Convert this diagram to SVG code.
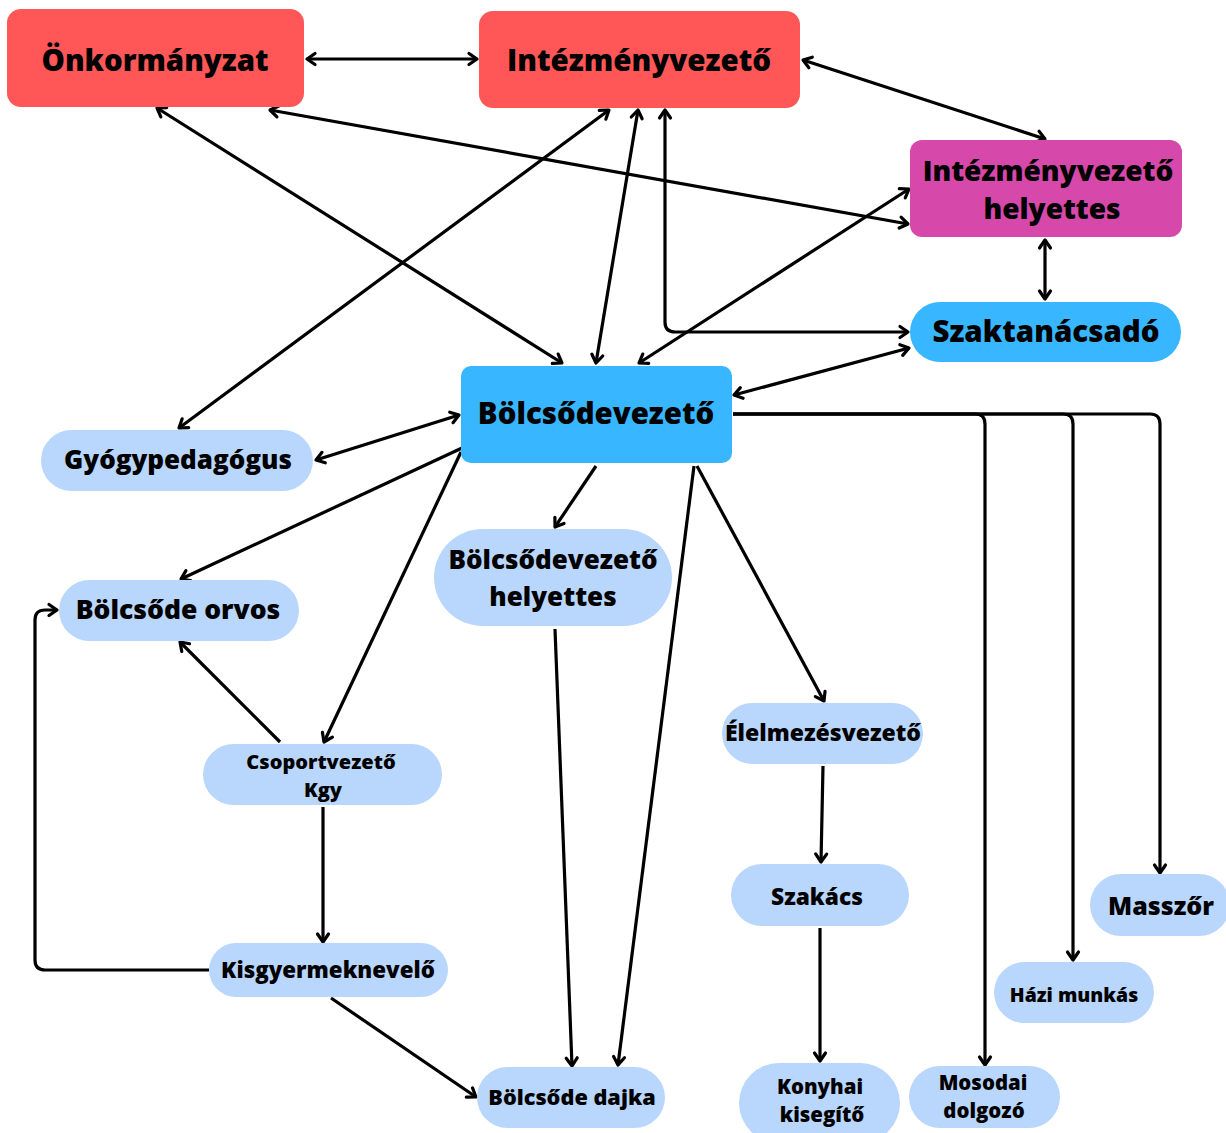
<svg xmlns="http://www.w3.org/2000/svg" width="1226" height="1133" viewBox="0 0 1226 1133">
<style>
text{font-family:"Open Sans","Noto Sans","Liberation Sans",sans-serif;font-weight:800;fill:#000;text-anchor:middle}
.red{fill:#FF5757}
.mag{fill:#D648A9}
.blue{fill:#38B6FF}
.lb{fill:#B9D6FC}
.c{fill:none;stroke:#000;stroke-width:3.2;stroke-linejoin:round}
</style>
<defs>
<marker id="a" viewBox="0 0 14 14" refX="12" refY="7" markerWidth="14" markerHeight="14" markerUnits="userSpaceOnUse" orient="auto-start-reverse" overflow="visible">
<path d="M4,1.5 L12,7 L4,12.5" fill="none" stroke="#000" stroke-width="3.2" stroke-linecap="round" stroke-linejoin="round"/>
</marker>
</defs>
<rect width="1226" height="1133" fill="#fff"/>
<g id="connectors">
<line class="c" x1="307" y1="59" x2="477" y2="59" marker-start="url(#a)" marker-end="url(#a)"/>
<line class="c" x1="157" y1="108" x2="562" y2="363" marker-start="url(#a)" marker-end="url(#a)"/>
<line class="c" x1="270" y1="110" x2="908" y2="224" marker-start="url(#a)" marker-end="url(#a)"/>
<line class="c" x1="609" y1="110" x2="179" y2="428" marker-start="url(#a)" marker-end="url(#a)"/>
<line class="c" x1="638" y1="110" x2="596" y2="363" marker-start="url(#a)" marker-end="url(#a)"/>
<path class="c" d="M665,110 V322 Q665,332 675,332 H908" marker-start="url(#a)" marker-end="url(#a)"/>
<line class="c" x1="803" y1="60" x2="1045" y2="139" marker-start="url(#a)" marker-end="url(#a)"/>
<line class="c" x1="909" y1="189" x2="639" y2="363" marker-start="url(#a)" marker-end="url(#a)"/>
<line class="c" x1="1045" y1="240" x2="1045" y2="299" marker-start="url(#a)" marker-end="url(#a)"/>
<line class="c" x1="909" y1="348" x2="734" y2="395" marker-start="url(#a)" marker-end="url(#a)"/>
<line class="c" x1="459" y1="415" x2="316" y2="460" marker-start="url(#a)" marker-end="url(#a)"/>
<line class="c" x1="462" y1="448" x2="181" y2="579" marker-end="url(#a)"/>
<line class="c" x1="461" y1="452" x2="324" y2="742" marker-end="url(#a)"/>
<line class="c" x1="596" y1="466" x2="555" y2="527" marker-end="url(#a)"/>
<line class="c" x1="694" y1="466" x2="618" y2="1065" marker-end="url(#a)"/>
<line class="c" x1="697" y1="466" x2="824" y2="701" marker-end="url(#a)"/>
<path class="c" d="M733,414 H975 Q985,414 985,424 V1065" marker-end="url(#a)"/>
<path class="c" d="M733,414 H1063 Q1073,414 1073,424 V960" marker-end="url(#a)"/>
<path class="c" d="M733,414 H1150 Q1160,414 1160,424 V873" marker-end="url(#a)"/>
<line class="c" x1="555" y1="629" x2="572" y2="1066" marker-end="url(#a)"/>
<line class="c" x1="280" y1="742" x2="180" y2="642" marker-end="url(#a)"/>
<line class="c" x1="323" y1="807" x2="323" y2="942" marker-end="url(#a)"/>
<path class="c" d="M209,970 H45 Q35,970 35,960 V620 Q35,610 45,610 H57" marker-end="url(#a)"/>
<line class="c" x1="331" y1="998" x2="476" y2="1097" marker-end="url(#a)"/>
<line class="c" x1="823" y1="766" x2="821" y2="862" marker-end="url(#a)"/>
<line class="c" x1="820" y1="928" x2="820" y2="1061" marker-end="url(#a)"/>
</g>
<g id="onkormanyzat"><rect class="red" x="7" y="9" width="297" height="98" rx="14"/><text x="155" y="71" font-size="29.4">Önkormányzat</text></g>
<g id="intezmenyvezeto"><rect class="red" x="479" y="11" width="321" height="97" rx="14"/><text x="639" y="71" font-size="29.5">Intézményvezető</text></g>
<g id="intezmenyvezeto-helyettes"><rect class="mag" x="910" y="140" width="272" height="97" rx="12"/><text x="1048" y="181" font-size="28">Intézményvezető</text><text x="1052" y="219" font-size="28">helyettes</text></g>
<g id="szaktanacsado"><rect class="blue" x="910" y="302" width="271" height="60" rx="30"/><text x="1046" y="342" font-size="29.5">Szaktanácsadó</text></g>
<g id="bolcsodevezeto"><rect class="blue" x="461" y="366" width="271" height="97" rx="10"/><text x="596" y="424" font-size="29.4">Bölcsődevezető</text></g>
<g id="gyogypedagogus"><rect class="lb" x="41" y="430" width="272" height="61" rx="30.5"/><text x="178" y="469" font-size="26">Gyógypedagógus</text></g>
<g id="bolcsode-orvos"><rect class="lb" x="59" y="580" width="240" height="61" rx="30.5"/><text x="178" y="619" font-size="26.5">Bölcsőde orvos</text></g>
<g id="bolcsodevezeto-helyettes"><rect class="lb" x="434" y="529" width="238" height="97" rx="48.5"/><text x="553" y="569" font-size="26">Bölcsődevezető</text><text x="553" y="606" font-size="26">helyettes</text></g>
<g id="elelmezesvezeto"><rect class="lb" x="722" y="703" width="201" height="61" rx="30.5"/><text x="823" y="741" font-size="23">Élelmezésvezető</text></g>
<g id="csoportvezeto"><rect class="lb" x="203" y="744" width="239" height="61" rx="30.5"/><text x="321" y="769" font-size="20">Csoportvezető</text><text x="323" y="797" font-size="20">Kgy</text></g>
<g id="kisgyermeknevelo"><rect class="lb" x="209" y="943" width="239" height="54" rx="27"/><text x="328" y="978" font-size="22.3">Kisgyermeknevelő</text></g>
<g id="bolcsode-dajka"><rect class="lb" x="477" y="1067" width="188" height="61" rx="30.5"/><text x="572" y="1105" font-size="21.7">Bölcsőde dajka</text></g>
<g id="szakacs"><rect class="lb" x="731" y="864" width="178" height="62" rx="31"/><text x="817" y="905" font-size="22.7">Szakács</text></g>
<g id="konyhai-kisegito"><rect class="lb" x="739" y="1063" width="161" height="80" rx="40"/><text x="820" y="1094" font-size="20.4">Konyhai</text><text x="822" y="1122" font-size="20.4">kisegítő</text></g>
<g id="mosodai-dolgozo"><rect class="lb" x="909" y="1066" width="151" height="62" rx="31"/><text x="983" y="1090" font-size="20.4">Mosodai</text><text x="984" y="1118" font-size="20.4">dolgozó</text></g>
<g id="hazi-munkas"><rect class="lb" x="994" y="962" width="160" height="61" rx="30.5"/><text x="1074" y="1002" font-size="19.4">Házi munkás</text></g>
<g id="masszor"><rect class="lb" x="1090" y="874" width="140" height="62" rx="31"/><text x="1161" y="915" font-size="25">Masszőr</text></g>
</svg>
